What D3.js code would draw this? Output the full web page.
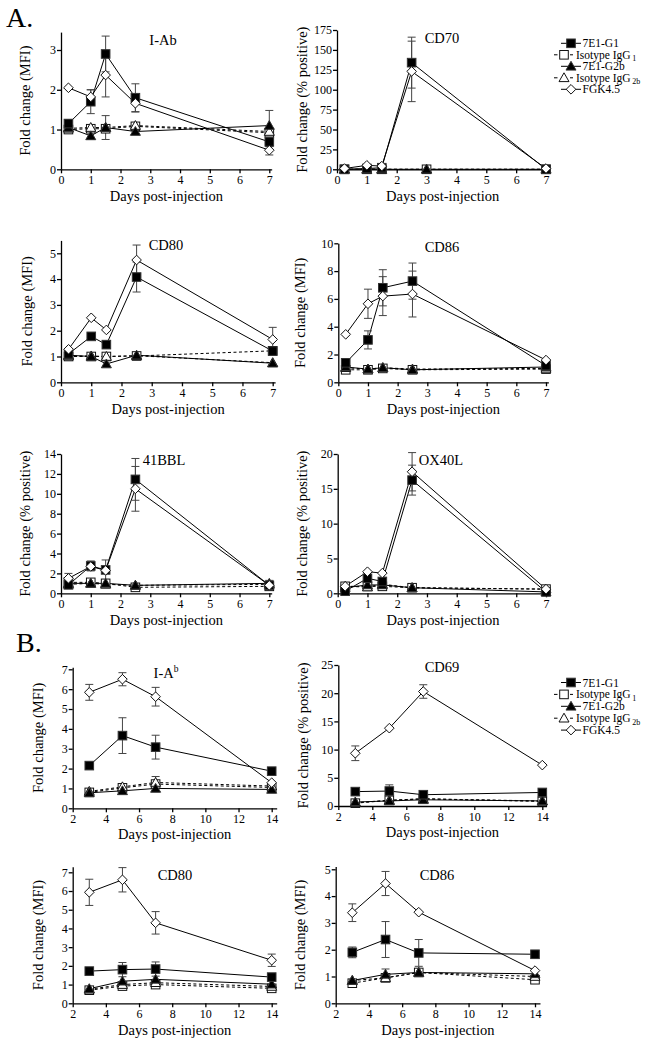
<!DOCTYPE html>
<html><head><meta charset="utf-8">
<script src="https://cdn.jsdelivr.net/npm/d3@7"></script>
<style>
body{margin:0;background:#fff}
svg{display:block}
text{font-family:"Liberation Serif","Times New Roman","DejaVu Serif",serif;fill:#000}
</style>
</head><body>
<svg id="c" width="664" height="1050"></svg>
<script>
// ---------- DATA ----------
const seriesKeys = ["g1","igg1","g2b","igg2b","fgk"];
const legendLabels = [["7E1-G1",""],["Isotype IgG","1"],["7E1-G2b",""],["Isotype IgG","2b"],["FGK4.5",""]];
const daysA = [0.25, 1, 1.5, 2.5, 7];
const daysA_CD70iso = [0.25, 1, 1.5, 3, 7];
const daysB = [3, 5, 7, 14];
const xTicksA = [0,1,2,3,4,5,6,7];
const xTicksB = [2,4,6,8,10,12,14];

// A: I-Ab
const iab_g1 = [1.15, 1.70, 2.90, 1.80, 0.69];   const iab_g1_err = [0.10, 0.30, 0.45, 0.35, 0.12];
const iab_igg1 = [1.00, 1.02, 1.02, 1.08, 0.92];
const iab_g2b = [1.05, 0.84, 1.05, 0.95, 1.10];  const iab_g2b_err = [null, 0.09, null, null, 0.38];
const iab_igg2b = [1.03, 1.05, 1.05, 1.10, 0.95]; const iab_igg2b_err = [null, null, 0.30, null, null];
const iab_fgk = [2.05, 1.82, 2.37, 1.66, 0.48];  const iab_fgk_err = [null, 0.18, 0.55, 0.22, 0.12];
// A: CD70
const cd70_g1 = [0, 1, 2, 134, 0];     const cd70_g1_err = [null, null, null, 32, null];
const cd70_igg1 = [0, 0, 0, 0, 0];
const cd70_g2b = [0, 0, 0, 0, 0];
const cd70_igg2b = [0, 0, 0, 0, 0];
const cd70_fgk = [1, 5, 4, 123, 1];    const cd70_fgk_err = [null, null, null, 38, null];
// A: CD80
const cd80a_g1 = [1.10, 1.78, 1.46, 4.08, 1.21]; const cd80a_g1_err = [null, null, null, 0.58, null];
const cd80a_igg1 = [1.00, 1.00, 1.00, 1.02, 1.22];
const cd80a_g2b = [1.05, 1.00, 0.71, 1.05, 0.74];
const cd80a_igg2b = [1.02, 1.02, 1.00, 1.03, 0.76];
const cd80a_fgk = [1.28, 2.50, 2.03, 4.74, 1.66]; const cd80a_fgk_err = [null, null, null, 0.58, 0.47];
// A: CD86
const cd86a_g1 = [1.40, 3.05, 6.80, 7.28, 1.20]; const cd86a_g1_err = [0.30, 0.65, 1.30, 1.30, null];
const cd86a_igg1 = [0.90, 0.90, 1.00, 0.90, 0.95];
const cd86a_g2b = [1.10, 0.95, 1.05, 0.90, 1.10];
const cd86a_igg2b = [1.05, 0.95, 1.05, 0.95, 1.00];
const cd86a_fgk = [3.45, 5.65, 6.20, 6.35, 1.60]; const cd86a_fgk_err = [null, 1.05, 1.40, 1.65, null];
// A: 41BBL
const bbl_g1 = [0.85, 2.75, 2.35, 11.45, 0.80]; const bbl_g1_err = [null, 0.50, 1.00, 2.10, 0.50];
const bbl_igg1 = [1.10, 1.10, 1.00, 0.60, 0.70];
const bbl_g2b = [1.00, 1.00, 1.00, 0.80, 1.00];
const bbl_igg2b = [0.90, 1.00, 0.90, 0.80, 0.90];
const bbl_fgk = [1.50, 2.70, 2.30, 10.50, 0.80]; const bbl_fgk_err = [0.50, null, null, 2.25, null];
// A: OX40L
const ox_g1 = [0.30, 2.15, 1.70, 16.25, 0.20]; const ox_g1_err = [null, null, null, 2.15, null];
const ox_igg1 = [1.00, 1.00, 1.00, 0.80, 0.60];
const ox_g2b = [0.80, 1.20, 1.20, 0.80, 0.20];
const ox_igg2b = [1.00, 0.90, 1.30, 0.80, 0.60];
const ox_fgk = [1.00, 3.10, 2.90, 17.45, 0.60]; const ox_fgk_err = [null, null, null, 2.75, null];
// B: I-Ab
const iabB_g1 = [2.15, 3.66, 3.08, 1.87];  const iabB_g1_err = [null, 0.90, 0.60, null];
const iabB_igg1 = [0.80, 1.03, 1.22, 1.05];
const iabB_g2b = [0.78, 0.88, 1.00, 0.95];
const iabB_igg2b = [0.85, 1.08, 1.30, 1.12]; const iabB_igg2b_err = [null, null, 0.30, null];
const iabB_fgk = [5.84, 6.50, 5.62, 1.29]; const iabB_fgk_err = [0.40, 0.33, 0.47, null];
// B: CD69
const cd69_g1 = [2.55, 2.65, 2.00, 2.40];  const cd69_g1_err = [null, 1.10, null, null];
const cd69_igg1 = [0.50, 1.00, 1.30, 0.80];
const cd69_g2b = [0.70, 0.90, 1.10, 0.90];
const cd69_igg2b = [0.60, 1.00, 1.25, 0.90];
const cd69_fgk = [9.35, 13.80, 20.30, 7.25]; const cd69_fgk_err = [1.30, null, 1.20, null];
// B: CD80
const cd80b_g1 = [1.72, 1.80, 1.83, 1.40]; const cd80b_g1_err = [null, 0.38, 0.38, null];
const cd80b_igg1 = [0.70, 0.92, 1.00, 0.80];
const cd80b_g2b = [0.78, 1.18, 1.28, 1.02];
const cd80b_igg2b = [0.75, 1.00, 1.10, 0.90];
const cd80b_fgk = [5.93, 6.60, 4.30, 2.30]; const cd80b_fgk_err = [0.70, 0.65, 0.60, 0.33];
// B: CD86
const cd86b_g1 = [1.90, 2.38, 1.88, 1.83]; const cd86b_g1_err = [0.20, 0.67, 0.50, null];
const cd86b_igg1 = [0.75, 0.95, 1.15, 0.88];
const cd86b_g2b = [0.85, 1.08, 1.15, 1.10]; const cd86b_g2b_err = [null, 0.20, null, null];
const cd86b_igg2b = [0.85, 0.95, 1.15, 1.00];
const cd86b_fgk = [3.38, 4.47, 3.40, 1.22]; const cd86b_fgk_err = [0.33, 0.45, null, null];

const mfi = "Fold change (MFI)", pos = "Fold change (% positive)";

// ---------- PANELS (data + layout) ----------
const panels = [
 {title:"I-Ab", ylab:mfi, x:daysA, xIso:daysA, xt:xTicksA, yt:[0,1,2,3],
  s:{g1:[iab_g1,iab_g1_err],igg1:[iab_igg1],g2b:[iab_g2b,iab_g2b_err],igg2b:[iab_igg2b,iab_igg2b_err],fgk:[iab_fgk,iab_fgk_err]},
  L:{x0:0,x0p:61,x1:7,x1p:269.3,xEnd:7.08,yb:169.3,yr:3,yrp:50,yMax:3.45,tx:163,ty:45,ylx:30,xly:201}},
 {title:"CD70", ylab:pos, x:daysA, xIso:daysA_CD70iso, xt:xTicksA, yt:[0,25,50,75,100,125,150,175],
  s:{g1:[cd70_g1,cd70_g1_err],igg1:[cd70_igg1],g2b:[cd70_g2b],igg2b:[cd70_igg2b],fgk:[cd70_fgk,cd70_fgk_err]},
  L:{x0:0,x0p:337,x1:7,x1p:546,xEnd:7.08,yb:169.3,yr:175,yrp:30,yMax:175,tx:442,ty:43,ylx:306.5,xly:201}},
 {title:"CD80", ylab:mfi, x:daysA, xIso:daysA, xt:xTicksA, yt:[0,1,2,3,4,5],
  s:{g1:[cd80a_g1,cd80a_g1_err],igg1:[cd80a_igg1],g2b:[cd80a_g2b],igg2b:[cd80a_igg2b],fgk:[cd80a_fgk,cd80a_fgk_err]},
  L:{x0:0,x0p:61,x1:7,x1p:272.7,xEnd:7.08,yb:382.3,yr:5,yrp:253.3,yMax:5.5,tx:166,ty:250,ylx:32,xly:414}},
 {title:"CD86", ylab:mfi, x:daysA, xIso:daysA, xt:xTicksA, yt:[0,2,4,6,8,10],
  s:{g1:[cd86a_g1,cd86a_g1_err],igg1:[cd86a_igg1],g2b:[cd86a_g2b],igg2b:[cd86a_igg2b],fgk:[cd86a_fgk,cd86a_fgk_err]},
  L:{x0:0,x0p:338.3,x1:7,x1p:546,xEnd:7.08,yb:382.3,yr:10,yrp:243.3,yMax:10,tx:442,ty:251.5,ylx:305,xly:414}},
 {title:"41BBL", ylab:pos, x:daysA, xIso:daysA, xt:xTicksA, yt:[0,2,4,6,8,10,12,14],
  s:{g1:[bbl_g1,bbl_g1_err],igg1:[bbl_igg1],g2b:[bbl_g2b],igg2b:[bbl_igg2b],fgk:[bbl_fgk,bbl_fgk_err]},
  L:{x0:0,x0p:61,x1:7,x1p:269.3,xEnd:7.08,yb:593.3,yr:14,yrp:454,yMax:14,tx:164,ty:465,ylx:30,xly:625}},
 {title:"OX40L", ylab:pos, x:daysA, xIso:daysA, xt:xTicksA, yt:[0,5,10,15,20],
  s:{g1:[ox_g1,ox_g1_err],igg1:[ox_igg1],g2b:[ox_g2b],igg2b:[ox_igg2b],fgk:[ox_fgk,ox_fgk_err]},
  L:{x0:0,x0p:337.7,x1:7,x1p:546,xEnd:7.08,yb:593.3,yr:20,yrp:454,yMax:20,tx:441,ty:465,ylx:306.5,xly:625}},
 {title:"I-A", sup:"b", ylab:mfi, x:daysB, xIso:daysB, xt:xTicksB, yt:[0,1,2,3,4,5,6,7],
  s:{g1:[iabB_g1,iabB_g1_err],igg1:[iabB_igg1],g2b:[iabB_g2b],igg2b:[iabB_igg2b,iabB_igg2b_err],fgk:[iabB_fgk,iabB_fgk_err]},
  L:{x0:2,x0p:72.7,x1:14,x1p:271.7,xEnd:14.3,yb:808.3,yr:7,yrp:669.3,yMax:7.1,tx:166,ty:678,ylx:43,xly:839}},
 {title:"CD69", ylab:pos, x:daysB, xIso:daysB, xt:xTicksB, yt:[0,5,10,15,20,25],
  s:{g1:[cd69_g1,cd69_g1_err],igg1:[cd69_igg1],g2b:[cd69_g2b],igg2b:[cd69_igg2b],fgk:[cd69_fgk,cd69_fgk_err]},
  L:{x0:2,x0p:338.3,x1:14,x1p:542.3,xEnd:14.25,yb:806,yr:25,yrp:665,yMax:25,tx:442,ty:671.5,ylx:308,xly:837}},
 {title:"CD80", ylab:mfi, x:daysB, xIso:daysB, xt:xTicksB, yt:[0,1,2,3,4,5,6,7],
  s:{g1:[cd80b_g1,cd80b_g1_err],igg1:[cd80b_igg1],g2b:[cd80b_g2b],igg2b:[cd80b_igg2b],fgk:[cd80b_fgk,cd80b_fgk_err]},
  L:{x0:2,x0p:72.7,x1:14,x1p:271.7,xEnd:14.3,yb:1003.3,yr:7,yrp:872.3,yMax:7.3,tx:175,ty:880,ylx:43,xly:1035}},
 {title:"CD86", ylab:mfi, x:daysB, xIso:daysB, xt:xTicksB, yt:[0,1,2,3,4,5],
  s:{g1:[cd86b_g1,cd86b_g1_err],igg1:[cd86b_igg1],g2b:[cd86b_g2b,cd86b_g2b_err],igg2b:[cd86b_igg2b],fgk:[cd86b_fgk,cd86b_fgk_err]},
  L:{x0:2,x0p:335.7,x1:14,x1p:535,xEnd:14.3,yb:1003.3,yr:5,yrp:869.3,yMax:5.1,tx:437,ty:880,ylx:305,xly:1035}}
];

// ---------- STYLES ----------
const style = {
  g1:{shape:"square", fill:"#000", dash:null},
  igg1:{shape:"square", fill:"#fff", dash:"3,2.5"},
  g2b:{shape:"triangle", fill:"#000", dash:null},
  igg2b:{shape:"triangle", fill:"#fff", dash:"3,2.5"},
  fgk:{shape:"diamond", fill:"#fff", dash:null}
};
const drawOrder = ["igg1","igg2b","g2b","g1","fgk"];
const FONT = '"Liberation Serif","Times New Roman","DejaVu Serif",serif';

const svg = d3.select("#c");

function marker(g, shape, fill, cx, cy) {
  let el;
  if (shape === "square") {
    el = g.append("rect").attr("x", cx-4.3).attr("y", cy-4.3).attr("width", 8.6).attr("height", 8.6);
  } else if (shape === "triangle") {
    el = g.append("path").attr("d", `M${cx},${cy-5}L${cx+5},${cy+3.8}L${cx-5},${cy+3.8}Z`);
  } else {
    el = g.append("path").attr("d", `M${cx},${cy-4.8}L${cx+4.8},${cy}L${cx},${cy+4.8}L${cx-4.8},${cy}Z`);
  }
  el.attr("fill", fill).attr("stroke", fill === "#000" ? "#333" : "#111").attr("stroke-width", 1);
}

panels.forEach(p => {
  const L = p.L;
  const x = d3.scaleLinear().domain([L.x0, L.x1]).range([L.x0p, L.x1p]);
  const y = d3.scaleLinear().domain([0, L.yr]).range([L.yb, L.yrp]);
  const g = svg.append("g");

  // axes
  const xa = x.copy().domain([L.x0, L.xEnd]).range([L.x0p, x(L.xEnd)]);
  const ya = y.copy().domain([0, L.yMax]).range([L.yb, y(L.yMax)]);
  const gx = g.append("g").attr("transform", `translate(0,${L.yb})`)
    .call(d3.axisBottom(xa).tickValues(p.xt).tickSize(4).tickSizeOuter(0).tickPadding(2.5).tickFormat(d3.format("d")));
  const gy = g.append("g").attr("transform", `translate(${L.x0p},0)`)
    .call(d3.axisLeft(ya).tickValues(p.yt).tickSize(4).tickSizeOuter(0).tickPadding(1).tickFormat(d3.format("d")));
  [gx, gy].forEach(a => {
    a.attr("font-family", FONT).attr("font-size", 12);
    a.selectAll("path,line").attr("stroke", "#000").attr("stroke-width", 1.3);
    a.selectAll("text").attr("fill", "#000");
  });

  // labels
  g.append("text").attr("x", (L.x0p + x(L.xEnd))/2).attr("y", L.xly)
    .attr("text-anchor", "middle").attr("font-size", 14.5).text("Days post-injection");
  g.append("text").attr("transform", `translate(${L.ylx},${(L.yb + y(L.yMax))/2}) rotate(-90)`)
    .attr("text-anchor", "middle").attr("font-size", 14.5).text(p.ylab);
  const t = g.append("text").attr("x", L.tx).attr("y", L.ty).attr("text-anchor", "middle").attr("font-size", 14.5).text(p.title);
  if (p.sup) t.append("tspan").attr("font-size", 9.5).attr("dy", -6).text(p.sup);

  const xsFor = k => (k === "g1" || k === "fgk") ? p.x : p.xIso;

  // lines
  drawOrder.forEach(k => {
    const vals = p.s[k][0], xs = xsFor(k);
    const pts = vals.map((v, i) => [x(xs[i]), y(v)]);
    g.append("path").attr("d", d3.line()(pts)).attr("fill", "none")
      .attr("stroke", "#000").attr("stroke-width", 1)
      .attr("stroke-dasharray", style[k].dash);
  });
  // error bars
  drawOrder.forEach(k => {
    const vals = p.s[k][0], errs = p.s[k][1], xs = xsFor(k);
    if (!errs) return;
    vals.forEach((v, i) => {
      const e = errs[i]; if (e == null) return;
      const cx = x(xs[i]), yt = y(v + e), yb = y(Math.max(0, v - e));
      g.append("line").attr("x1", cx).attr("x2", cx).attr("y1", yt).attr("y2", yb).attr("stroke", "#444").attr("stroke-width", 1);
      [yt, yb].forEach(yy => g.append("line").attr("x1", cx-4).attr("x2", cx+4).attr("y1", yy).attr("y2", yy).attr("stroke", "#444").attr("stroke-width", 1));
    });
  });
  // markers
  drawOrder.forEach(k => {
    const vals = p.s[k][0], xs = xsFor(k);
    vals.forEach((v, i) => marker(g, style[k].shape, style[k].fill, x(xs[i]), y(v)));
  });
});

// panel letters
svg.append("text").attr("x", 6).attr("y", 27).attr("font-size", 28).text("A.");
svg.append("text").attr("x", 16).attr("y", 652).attr("font-size", 28).text("B.");

// legends
function legend(y0, step) {
  const g = svg.append("g");
  seriesKeys.forEach((k, i) => {
    const cy = y0 + i*step;
    const st = style[k];
    const iso = st.dash != null;
    const mx = iso ? 564 : 571;
    if (iso) {
      g.append("line").attr("x1", 554).attr("x2", 557.5).attr("y1", cy).attr("y2", cy).attr("stroke", "#000");
      g.append("line").attr("x1", 570).attr("x2", 573).attr("y1", cy).attr("y2", cy).attr("stroke", "#000");
    } else {
      g.append("line").attr("x1", 561).attr("x2", 581).attr("y1", cy).attr("y2", cy).attr("stroke", "#000");
    }
    marker(g, st.shape, st.fill, mx, cy);
    const tx = g.append("text").attr("x", iso ? 576 : 582.5).attr("y", cy + 4).attr("font-size", 11.5).text(legendLabels[i][0]);
    if (legendLabels[i][1]) tx.append("tspan").attr("font-size", 8).attr("dx", 1.5).attr("dy", 2.5).text(legendLabels[i][1]);
  });
}
legend(43.3, 11.5);
legend(682.5, 11.9);
</script>
</body></html>
